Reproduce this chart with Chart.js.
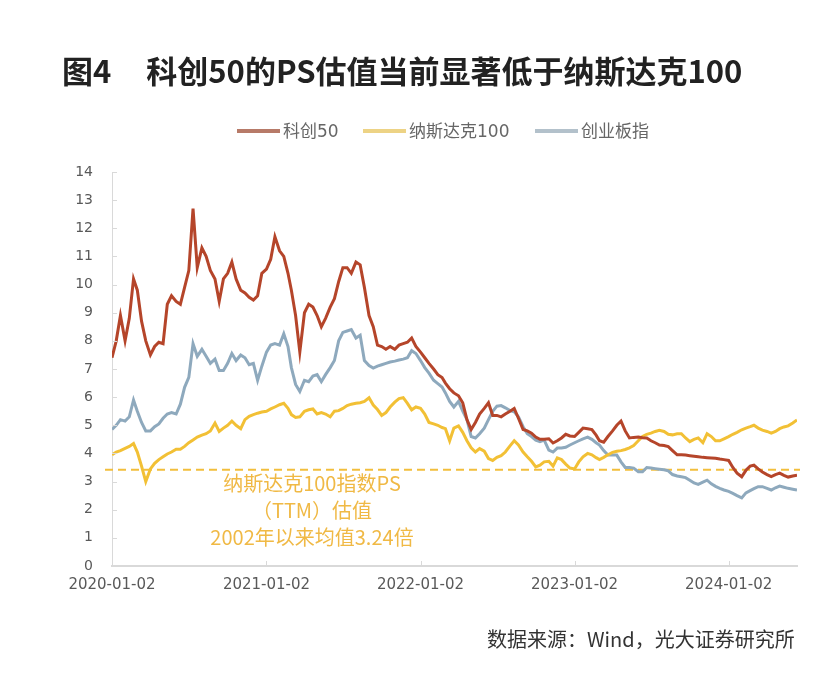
<!DOCTYPE html>
<html lang="zh">
<head>
<meta charset="UTF-8" />
<title>科创50的PS估值</title>
<script src="https://cdn.jsdelivr.net/npm/chart.js"></script>
<style>
  body { margin: 0; background: #fff; }
  #wrap { position: relative; width: 836px; height: 682px; }
  #chart { position: absolute; left: 0; top: 0; }
  .title { position: absolute; left: 62px; top: 51px; font: bold 31px "Noto Sans CJK SC"; color: #222; line-height: 38px; white-space: nowrap; }
  .title span { margin-left: 35px; }
  .leg { position: absolute; top: 121px; font: 17px "DejaVu Sans", "Noto Sans CJK SC"; color: #666; line-height: 20px; white-space: nowrap; }
  .leg i { position: absolute; top: 8px; width: 43px; height: 4px; }
  .src { position: absolute; left: 487px; top: 626px; font: 20px "Noto Sans CJK SC"; color: #333; line-height: 26px; white-space: nowrap; }
</style>
</head>
<body>
<div id="wrap">
  <canvas id="chart" width="836" height="682"></canvas>
  <div class="title">图4<span>科创50的PS估值当前显著低于纳斯达克100</span></div>
  <div id="legend"></div>
  <div class="src">数据来源：Wind，光大证券研究所</div>
</div>

<script>
  // 序列名称与颜色
  const seriesNames = ['科创50', '纳斯达克100', '创业板指'];
  const seriesColors = ['#B5452A', '#F2C035', '#8EA9BD'];
  const legendColors = ['#B77A68', '#EDD385', '#B3C1CB'];

  // 坐标轴
  const tickDates = ['2020-01-02', '2021-01-02', '2022-01-02', '2023-01-02', '2024-01-02'];
  const firstDate = '2020-01-02';
  const lastDate = '2024-06-12';
  const sampleDays = [2, 12, 22]; // 每月取样日

  // 纳斯达克100 PS 长期均值线（图上位置）
  const ndxAvg = 3.42;
  const noteLines = ['纳斯达克100指数PS', '（TTM）估值', '2002年以来均值3.24倍'];

  // 科创50
  const ks50 = [
    7.4, 8.0, 8.9, 8.0, 8.8, 10.2, 9.8, 8.7, 8.0, 7.5, 7.8, 7.95, 7.9, 9.3, 9.6, 9.4, 9.3, 9.9,
    10.5, 12.7, 10.6, 11.3, 11.0, 10.5, 10.2, 9.4, 10.2, 10.4, 10.8, 10.2, 9.8, 9.7, 9.55, 9.45, 9.6, 10.4,
    10.55, 10.9, 11.7, 11.2, 11.0, 10.4, 9.8, 8.9, 7.6, 9.0, 9.3, 9.2, 8.9, 8.5, 8.8, 9.2, 9.5, 10.1,
    10.6, 10.6, 10.4, 10.8, 10.7, 9.9, 8.9, 8.5, 7.85, 7.8, 7.7, 7.8, 7.7, 7.85, 7.9, 7.95, 8.1, 7.8,
    7.6, 7.4, 7.2, 7.0, 6.8, 6.7, 6.5, 6.3, 6.15, 6.05, 5.8, 5.2, 4.85, 5.1, 5.4, 5.6, 5.8, 5.35,
    5.35, 5.3, 5.4, 5.5, 5.6, 5.25, 4.85, 4.8, 4.72, 4.58, 4.5, 4.5, 4.52, 4.37, 4.45, 4.55, 4.68, 4.62,
    4.6, 4.75, 4.9, 4.88, 4.85, 4.65, 4.45, 4.4, 4.6, 4.8, 5.0, 5.15, 4.8, 4.55, 4.57, 4.58, 4.56, 4.55,
    4.45, 4.38, 4.3, 4.28, 4.24, 4.1, 3.95, 3.95, 3.94, 3.92, 3.9, 3.88, 3.86, 3.85, 3.84, 3.83, 3.8, 3.78,
    3.75, 3.5, 3.3, 3.17, 3.4, 3.55, 3.58, 3.45, 3.34, 3.25, 3.18, 3.25, 3.3, 3.22, 3.16, 3.2, 3.23
  ];

  // 纳斯达克100
  const ndx100 = [
    3.95, 4.05, 4.1, 4.18, 4.25, 4.35, 4.05, 3.55, 3.0, 3.45, 3.65, 3.78, 3.88, 3.98, 4.05, 4.15, 4.15, 4.25,
    4.38, 4.48, 4.58, 4.65, 4.7, 4.8, 5.08, 4.78, 4.9, 5.0, 5.15, 5.0, 4.88, 5.2, 5.32, 5.38, 5.43, 5.47,
    5.5, 5.58, 5.65, 5.73, 5.78, 5.6, 5.38, 5.28, 5.3, 5.5, 5.55, 5.58, 5.4, 5.45, 5.4, 5.3, 5.5, 5.52,
    5.6, 5.7, 5.75, 5.78, 5.8, 5.85, 5.98, 5.72, 5.56, 5.35, 5.45, 5.65, 5.82, 5.95, 5.98, 5.78, 5.55, 5.65,
    5.6, 5.4, 5.1, 5.05, 5.0, 4.92, 4.88, 4.45, 4.9, 4.98, 4.75, 4.45, 4.2, 4.05, 4.17, 4.08, 3.82, 3.75,
    3.86, 3.92, 4.05, 4.27, 4.45, 4.3, 4.05, 3.88, 3.72, 3.52, 3.58, 3.7, 3.72, 3.55, 3.84, 3.78, 3.62, 3.48,
    3.45, 3.7, 3.88, 4.0, 3.95, 3.85, 3.78, 3.86, 3.95, 4.04, 4.08, 4.1, 4.14, 4.2, 4.28, 4.45, 4.6, 4.68,
    4.72, 4.78, 4.82, 4.78, 4.68, 4.66, 4.7, 4.7, 4.55, 4.42, 4.5, 4.55, 4.38, 4.7, 4.6, 4.45, 4.45, 4.52,
    4.6, 4.68, 4.75, 4.84, 4.9, 4.95, 5.0, 4.9, 4.83, 4.78, 4.72, 4.78, 4.88, 4.94, 4.98, 5.08, 5.19
  ];

  // 创业板指
  const cyb = [
    4.85, 5.0, 5.2, 5.15, 5.3, 5.9, 5.5, 5.1, 4.8, 4.8, 4.95, 5.05, 5.25, 5.4, 5.45, 5.4, 5.75, 6.35,
    6.7, 7.9, 7.45, 7.7, 7.45, 7.2, 7.35, 6.95, 6.95, 7.2, 7.55, 7.3, 7.5, 7.4, 7.15, 7.2, 6.6, 7.1,
    7.6, 7.85, 7.9, 7.85, 8.25, 7.8, 7.05, 6.45, 6.2, 6.6, 6.55, 6.75, 6.8, 6.55, 6.8, 7.05, 7.3, 8.0,
    8.3, 8.35, 8.4, 8.1, 8.2, 7.3, 7.12, 7.03, 7.1, 7.15, 7.2, 7.25, 7.28, 7.32, 7.35, 7.4, 7.65, 7.55,
    7.3, 7.05, 6.85, 6.6, 6.48, 6.36, 6.15, 5.85, 5.65, 5.85, 5.5, 5.2, 4.6, 4.55, 4.7, 4.9, 5.2, 5.5,
    5.68, 5.7, 5.62, 5.52, 5.48, 5.3, 4.95, 4.7, 4.6, 4.47, 4.42, 4.47, 4.12, 4.05, 4.19, 4.19, 4.22, 4.3,
    4.38, 4.45, 4.52, 4.58, 4.5, 4.38, 4.3, 4.1, 3.94, 3.94, 3.94, 3.7, 3.5, 3.5, 3.48, 3.35, 3.35, 3.5,
    3.48, 3.46, 3.44, 3.42, 3.38, 3.25, 3.2, 3.17, 3.14, 3.05, 2.95, 2.9, 2.98, 3.05, 2.92, 2.83, 2.76, 2.7,
    2.65, 2.58, 2.5, 2.42, 2.6, 2.68, 2.75, 2.82, 2.82, 2.76, 2.7, 2.78, 2.84, 2.8, 2.76, 2.73, 2.7
  ];

  function dayNum(s) {
    const [y, m, d] = s.split('-').map(Number);
    return (Date.UTC(y, m - 1, d) - Date.UTC(2020, 0, 2)) / 86400000;
  }

  // 取样日期
  const dates = [];
  for (let y = 2020; y <= 2024; y++) {
    for (let m = 1; m <= 12; m++) {
      for (const d of sampleDays) {
        const s = y + '-' + String(m).padStart(2, '0') + '-' + String(d).padStart(2, '0');
        if (dayNum(s) <= dayNum(lastDate)) dates.push(s);
      }
    }
  }

  const allValues = [ks50, ndx100, cyb];

  // HTML 图例
  const legendPos = [237, 363, 535];
  const legend = document.getElementById('legend');
  seriesNames.forEach((name, i) => {
    legend.innerHTML += `<div class="leg" style="left:${legendPos[i]}px"><i style="left:0;background:${legendColors[i]}"></i><span style="margin-left:46px">${name}</span></div>`;
  });

  // 均值虚线 + 注释
  const refLine = {
    id: 'refLine',
    beforeDatasetsDraw(chart) {
      const { ctx, chartArea, scales } = chart;
      const y = scales.y.getPixelForValue(ndxAvg);
      ctx.save();
      ctx.strokeStyle = '#F2BE3C';
      ctx.lineWidth = 2;
      ctx.setLineDash([8, 5]);
      ctx.beginPath();
      ctx.moveTo(chartArea.left - 7, y);
      ctx.lineTo(chartArea.right + 3, y);
      ctx.stroke();
      ctx.setLineDash([]);
      ctx.fillStyle = '#F0B945';
      ctx.font = '20px "Noto Sans CJK SC"';
      ctx.textAlign = 'center';
      ctx.textBaseline = 'middle';
      noteLines.forEach((t, i) => ctx.fillText(t, chartArea.left + 200, y + 14 + i * 27));
      ctx.restore();
    }
  };

  // 坐标轴内侧小刻度
  const innerTicks = {
    id: 'innerTicks',
    afterDraw(chart) {
      const { ctx, chartArea, scales } = chart;
      ctx.save();
      ctx.strokeStyle = '#D9D9D9';
      ctx.lineWidth = 1;
      ctx.beginPath();
      scales.y.ticks.forEach(t => {
        const y = Math.round(scales.y.getPixelForValue(t.value)) + 0.5;
        ctx.moveTo(chartArea.left, y);
        ctx.lineTo(chartArea.left + 5, y);
      });
      scales.x.ticks.forEach(t => {
        const x = Math.round(scales.x.getPixelForValue(t.value)) + 0.5;
        ctx.moveTo(x, chartArea.bottom);
        ctx.lineTo(x, chartArea.bottom - 5);
      });
      ctx.stroke();
      ctx.restore();
    }
  };

  new Chart(document.getElementById('chart'), {
    type: 'line',
    data: {
      datasets: seriesNames.map((name, i) => ({
        label: name,
        data: dates.map((d, k) => ({ x: dayNum(d), y: allValues[i][k] })),
        borderColor: seriesColors[i],
        borderWidth: 3,
        pointRadius: 0,
        tension: 0,
        fill: false
      }))
    },
    options: {
      responsive: false,
      animation: false,
      layout: { padding: { left: 0, right: 39, top: 172, bottom: 86 } },
      plugins: { legend: { display: false }, tooltip: { enabled: false } },
      scales: {
        x: {
          type: 'linear',
          min: dayNum(firstDate),
          max: dayNum(lastDate),
          afterBuildTicks: s => { s.ticks = tickDates.map(d => ({ value: dayNum(d) })); },
          afterFit: s => { s.height = 30; },
          grid: { display: false, drawTicks: false },
          border: { display: true, color: '#D9D9D9', width: 2 },
          ticks: {
            autoSkip: false,
            maxRotation: 0,
            padding: 10,
            color: '#595959',
            font: { family: 'DejaVu Sans', size: 15 },
            callback: v => tickDates.find(d => dayNum(d) === v) || ''
          }
        },
        y: {
          min: 0,
          max: 14,
          afterFit: s => { s.width = 112; },
          grid: { display: false, drawTicks: false },
          border: { display: true, color: '#D9D9D9', width: 1 },
          ticks: {
            stepSize: 1,
            padding: 19,
            color: '#595959',
            font: { family: 'DejaVu Sans', size: 14 }
          }
        }
      }
    },
    plugins: [refLine, innerTicks]
  });
</script>
</body>
</html>
